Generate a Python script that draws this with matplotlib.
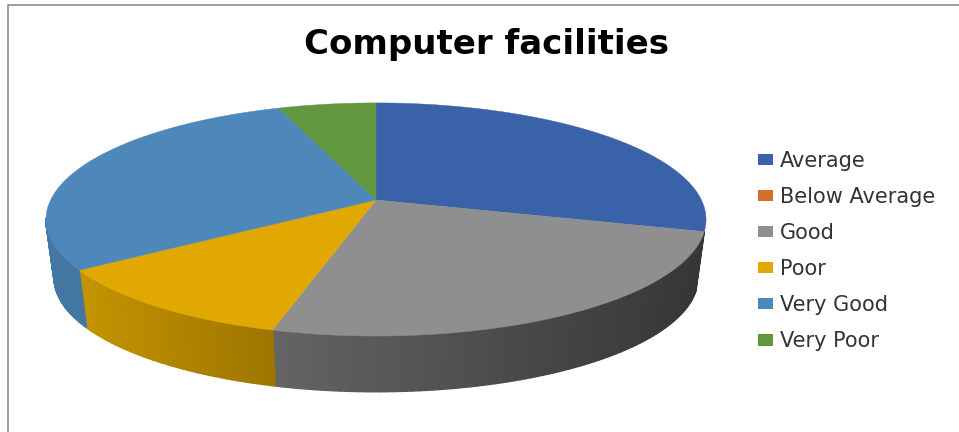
import numpy as np
import matplotlib
matplotlib.use("Agg")
import matplotlib.pyplot as plt
from matplotlib.patches import Patch, Polygon
from matplotlib.collections import PolyCollection

labels = ["Average", "Below Average", "Good", "Poor", "Very Good", "Very Poor"]
values = [29.3, 0.0, 25.0, 11.2, 28.9, 5.6]
colors = ["#3A62A8", "#D2702A", "#8F8F8F", "#E0A800", "#4E87BA", "#62973F"]
title = "Computer facilities"

# projection of the tilted disc, in pixels
CX, CY = 376, 200
R, H, K = 325.4, 113.3, 0.167
DEPTH, BOTTOM_SCALE = 59, 0.975


def project(angle, z=0):
    # angle is clockwise from 12 o'clock, in radians
    u, v = np.sin(angle), np.cos(angle)
    w = 1 + K * v
    s = BOTTOM_SCALE if z else 1.0
    return CX + s * R * u / w, CY + z - s * H * v / w


def shade(x):
    # side wall gets darker from left to right
    return np.interp(x, [46, 86, 272, 700], [0.88, 0.87, 0.70, 0.38])


fig = plt.figure(figsize=(9.59, 4.32), dpi=100, facecolor="w")
ax = fig.add_axes([0, 0, 1, 1])
ax.set_xlim(0, 959)
ax.set_ylim(432, 0)
ax.axis("off")

# frame of the pasted chart
ax.plot([8, 8, 959], [432, 5, 5], color="#8C8C8C", lw=1.2)

edges = np.radians(np.concatenate([[0], np.cumsum(values)]) * 360 / sum(values))

# side walls, the first slice stays behind the rim
for i in range(1, len(values)):
    if values[i] == 0:
        continue
    n = max(2, int(np.degrees(edges[i + 1] - edges[i])))
    a = np.linspace(edges[i], edges[i + 1], n + 1)
    strips, faces = [], []
    base = np.array(matplotlib.colors.to_rgb(colors[i]))
    for a0, a1 in zip(a[:-1], a[1:]):
        if np.cos((a0 + a1) / 2) > -0.167:
            continue
        x0, y0 = project(a0)
        x1, y1 = project(a1)
        x2, y2 = project(a1, DEPTH)
        x3, y3 = project(a0, DEPTH)
        strips.append([(x0, y0), (x1, y1), (x2, y2), (x3, y3)])
        faces.append(base * shade((x0 + x1) / 2))
    if strips:
        ax.add_collection(PolyCollection(strips, facecolors=faces, edgecolors=faces, linewidths=1.2))

# top face
for i in range(len(values)):
    if values[i] == 0:
        continue
    a = np.linspace(edges[i], edges[i + 1], 200)
    x, y = project(a)
    pts = np.column_stack([np.r_[CX, x], np.r_[CY, y]])
    ax.add_patch(Polygon(pts, closed=True, facecolor=colors[i], edgecolor=colors[i], lw=0.3))

ax.text(487, 54, title, fontsize=24.5, fontweight="bold", family="DejaVu Sans",
        color="#000000", ha="center", va="baseline")

handles = [Patch(facecolor=c, edgecolor="none") for c in colors]
ax.legend(handles, labels, loc="center left", bbox_to_anchor=(758 / 959, 1 - 251 / 432),
          frameon=False, prop={"family": "DejaVu Sans", "size": 15}, labelcolor="#333333",
          handlelength=0.72, handleheight=0.48, handletextpad=0.35, labelspacing=0.77,
          borderpad=0, borderaxespad=0)

fig.savefig("out.png", dpi=100)
